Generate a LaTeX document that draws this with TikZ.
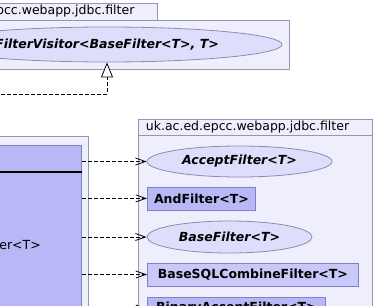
\documentclass[tikz,border=0pt]{standalone}
\usepackage{fontspec}
\setmainfont{DejaVu Sans}
\usetikzlibrary{shapes.geometric,arrows.meta}

\definecolor{pkgfill}{RGB}{238,238,252}
\definecolor{pkgline}{RGB}{150,150,180}
\definecolor{ifacefill}{RGB}{222,222,252}
\definecolor{ifaceline}{RGB}{140,140,175}
\definecolor{clsfill}{RGB}{184,184,246}
\definecolor{clsfilllight}{RGB}{200,200,249}
\definecolor{clsline}{RGB}{128,128,196}

\tikzset{
  pkgbox/.style={draw=pkgline, fill=pkgfill, line width=0.8pt},
  pkgname/.style={anchor=west, inner sep=0pt, font=\fontsize{12.5}{14}\selectfont},
  iface/.style={ellipse, draw=ifaceline, fill=ifacefill, line width=0.8pt, inner sep=0pt,
                font=\fontsize{12.5}{14}\selectfont\bfseries\itshape},
  clsbox/.style={rectangle, draw=clsline, fill=clsfill, line width=0.8pt, inner sep=0pt,
                 minimum height=23pt, font=\fontsize{12.5}{14}\selectfont\bfseries},
  dep/.style={draw=black, line width=0.8pt, dash pattern=on 4pt off 2pt,
              -{Straight Barb[length=10pt,width=7pt,line width=0.8pt]}},
  realize/.style={draw=black, line width=0.8pt, dash pattern=on 4pt off 2pt,
                  -{Triangle[length=15pt,width=12pt,fill=white,line width=0.8pt]}}
}

\begin{document}
\begin{tikzpicture}[x=1pt,y=-1pt]
\useasboundingbox (0,0) rectangle (374,305);
\clip (0,0) rectangle (374,305);
\fill[white] (0,0) rectangle (374,305);

% package holding the visitor interface
\draw[pkgbox] (-77,3) rectangle (157,20.5);
\draw[pkgbox] (-77,20.5) rectangle (289.5,69);
\node[pkgname] (toppkg) at (-69,11.5) {uk.ac.ed.epcc.webapp.jdbc.filter};
\node[iface, minimum width=350pt, minimum height=35pt] (visitor) at (107,44.5)
  {FilterVisitor<BaseFilter<T>, T>};

% package on the left with the client class
\draw[pkgbox] (-20,136.7) rectangle (88,340);
\node[rectangle, draw=clsline, fill=clsfill, line width=0.8pt, inner sep=0pt,
      minimum width=101pt, minimum height=195pt, anchor=north west] (client) at (-20,145) {};
\draw[black, line width=2pt] (client.west |- 0,172) -- (client.east |- 0,172);
\node[anchor=east, inner sep=0pt, font=\fontsize{12.5}{14}\selectfont] (clientname) at (41,245) {Filter<T>};

% package holding the filter types
\draw[pkgbox] (138,119) rectangle (372,135);
\draw[pkgbox] (138,135) rectangle (372,340);
\node[pkgname] (rightpkg) at (145.7,127.5) {uk.ac.ed.epcc.webapp.jdbc.filter};

\node[iface, minimum width=185pt, minimum height=31pt] (accept) at (239.5,161.5) {AcceptFilter<T>};
\node[clsbox, minimum width=108pt, anchor=west] (and) at (147,198.4) {AndFilter<T>};
\node[iface, minimum width=165pt, minimum height=32pt] (base) at (229.5,237) {BaseFilter<T>};
\node[clsbox, fill=clsfilllight, minimum width=211pt, anchor=west] (sqlcomb) at (147,274.5) {BaseSQLCombineFilter<T>};
\node[clsbox, minimum width=178pt, anchor=west] (binary) at (147,308.5) {BinaryAcceptFilter<T>};

% dependencies from the client class
\draw[dep] (client.east |- accept.west) -- (accept.west);
\draw[dep] (client.east |- and.west) -- (and.west);
\draw[dep] (client.east |- base.west) -- (base.west);
\draw[dep] (client.east |- sqlcomb.west) -- (sqlcomb.west);
\draw[dep] (client.east |- binary.west) -- (binary.west);

% realization of the visitor interface
\coordinate (implfrom) at (-5,94);
\draw[realize] (implfrom) -| (visitor.south);
\end{tikzpicture}
\end{document}
